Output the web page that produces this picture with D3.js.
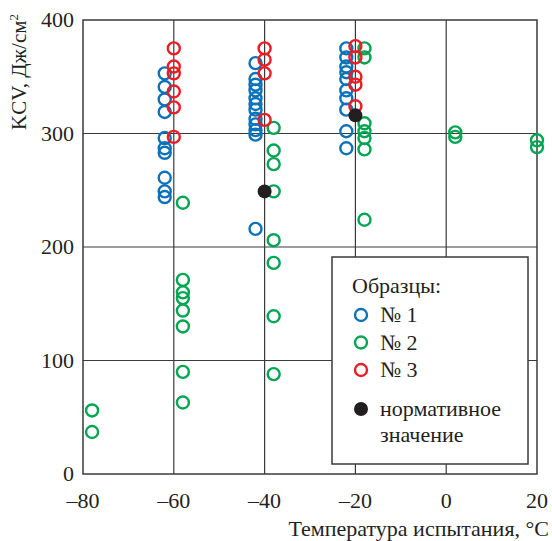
<!DOCTYPE html>
<html>
<head>
<meta charset="utf-8">
<script src="https://cdn.jsdelivr.net/npm/d3@7"></script>
<style>
  body { margin: 0; background: #fff; }
</style>
</head>
<body>
<div id="chart"></div>
<script>
// data: temperature (°C) and KCV (J/cm2)
let sample1 = [
  [-62, 353], [-62, 341], [-62, 330], [-62, 319], [-62, 296], [-62, 287], [-62, 283], [-62, 261], [-62, 249], [-62, 244],
  [-42, 362], [-42, 348], [-42, 343], [-42, 338], [-42, 331], [-42, 326], [-42, 321], [-42, 313], [-42, 308], [-42, 303], [-42, 299], [-42, 216],
  [-22, 375], [-22, 367], [-22, 359], [-22, 354], [-22, 348], [-22, 338], [-22, 331], [-22, 321], [-22, 302], [-22, 287]
];
let sample2 = [
  [-78, 56], [-78, 37],
  [-58, 239], [-58, 171], [-58, 160], [-58, 155], [-58, 144], [-58, 130], [-58, 90], [-58, 63],
  [-38, 305], [-38, 285], [-38, 273], [-38, 249], [-38, 206], [-38, 186], [-38, 139], [-38, 88],
  [-18, 375], [-18, 367], [-18, 309], [-18, 302], [-18, 296], [-18, 286], [-18, 224],
  [2, 301], [2, 297],
  [20, 294], [20, 288]
];
let sample3 = [
  [-60, 375], [-60, 359], [-60, 353], [-60, 337], [-60, 323], [-60, 297],
  [-40, 375], [-40, 365], [-40, 353], [-40, 312],
  [-20, 377], [-20, 367], [-20, 350], [-20, 343], [-20, 324]
];
let normative = [[-40, 249], [-20, 316]];

let xTicks = [-80, -60, -40, -20, 0, 20];
let yTicks = [0, 100, 200, 300, 400];
let legendLabels = ["№ 1", "№ 2", "№ 3"];
let colors = ["#0a72ba", "#00a651", "#ec1c24"];

let width = 552, height = 541;
let margin = {left: 83, right: 15, top: 20, bottom: 67};
let serif = "'Liberation Serif', 'Times New Roman', 'DejaVu Serif', serif";

let svg = d3.select("#chart").append("svg")
    .attr("width", width)
    .attr("height", height)
    .attr("font-family", serif)
    .style("font-family", serif)
    .attr("fill", "#231f20");

let x = d3.scaleLinear().domain([-80, 20]).range([margin.left, width - margin.right]);
let y = d3.scaleLinear().domain([0, 400]).range([height - margin.bottom, margin.top]);

// grid
svg.append("g").selectAll("line")
  .data(xTicks.slice(1, -1))
  .enter().append("line")
    .attr("x1", d => x(d)).attr("x2", d => x(d))
    .attr("y1", y(0)).attr("y2", y(400))
    .attr("stroke", "#3a3a3a").attr("stroke-width", 1.2);
svg.append("g").selectAll("line")
  .data(yTicks.slice(1, -1))
  .enter().append("line")
    .attr("x1", x(-80)).attr("x2", x(20))
    .attr("y1", d => y(d)).attr("y2", d => y(d))
    .attr("stroke", "#3a3a3a").attr("stroke-width", 1.2);

svg.append("rect")
  .attr("x", x(-80)).attr("y", y(400))
  .attr("width", x(20) - x(-80)).attr("height", y(0) - y(400))
  .attr("fill", "none").attr("stroke", "#3a3a3a").attr("stroke-width", 1.5);

// tick labels
svg.append("g").selectAll("text")
  .data(xTicks)
  .enter().append("text")
    .attr("x", d => x(d))
    .attr("y", y(0) + 34)
    .attr("text-anchor", "middle")
    .style("font-size", "22px")
    .text(d => d < 0 ? "\u2013" + Math.abs(d) : d);
svg.append("g").selectAll("text")
  .data(yTicks)
  .enter().append("text")
    .attr("x", x(-80) - 9)
    .attr("y", d => y(d) + 7)
    .attr("text-anchor", "end")
    .style("font-size", "22px")
    .text(d => d);

// axis titles
svg.append("text")
  .attr("x", width - 3)
  .attr("y", height - 5)
  .attr("text-anchor", "end")
  .style("font-size", "22px")
  .text("Температура испытания, °C");

let yt = svg.append("text")
  .attr("transform", "translate(26,14) rotate(-90)")
  .attr("text-anchor", "end")
  .style("font-size", "21px");
yt.append("tspan").text("KCV, Дж/см");
yt.append("tspan").attr("dy", -8).style("font-size", "13px").text("2");

// legend box
let lg = svg.append("g");
lg.append("rect")
  .attr("x", 332).attr("y", 257)
  .attr("width", 196).attr("height", 207)
  .attr("fill", "#fff").attr("stroke", "#3a3a3a").attr("stroke-width", 1.5);

// points: blue, green, then red on top
[[sample1, colors[0]], [sample2, colors[1]], [sample3, colors[2]]].forEach(function(s) {
  svg.append("g").selectAll("circle")
    .data(s[0])
    .enter().append("circle")
      .attr("cx", d => x(d[0]))
      .attr("cy", d => y(d[1]))
      .attr("r", 6)
      .attr("fill", "none")
      .attr("stroke", s[1])
      .attr("stroke-width", 2.4);
});
svg.append("g").selectAll("circle")
  .data(normative)
  .enter().append("circle")
    .attr("cx", d => x(d[0]))
    .attr("cy", d => y(d[1]))
    .attr("r", 7)
    .attr("fill", "#231f20");

// legend content
lg.append("text").attr("x", 352).attr("y", 293).style("font-size", "22px").text("Образцы:");
legendLabels.forEach(function(l, i) {
  let cy = 315 + i * 27.5;
  lg.append("circle").attr("cx", 361).attr("cy", cy).attr("r", 6)
    .attr("fill", "none").attr("stroke", colors[i]).attr("stroke-width", 2.4);
  lg.append("text").attr("x", 380).attr("y", cy + 7).style("font-size", "22px").text(l);
});
lg.append("circle").attr("cx", 361).attr("cy", 409).attr("r", 7).attr("fill", "#231f20");
lg.append("text").attr("x", 380).attr("y", 416).style("font-size", "22px").text("нормативное");
lg.append("text").attr("x", 380).attr("y", 442).style("font-size", "22px").text("значение");
</script>
</body>
</html>
